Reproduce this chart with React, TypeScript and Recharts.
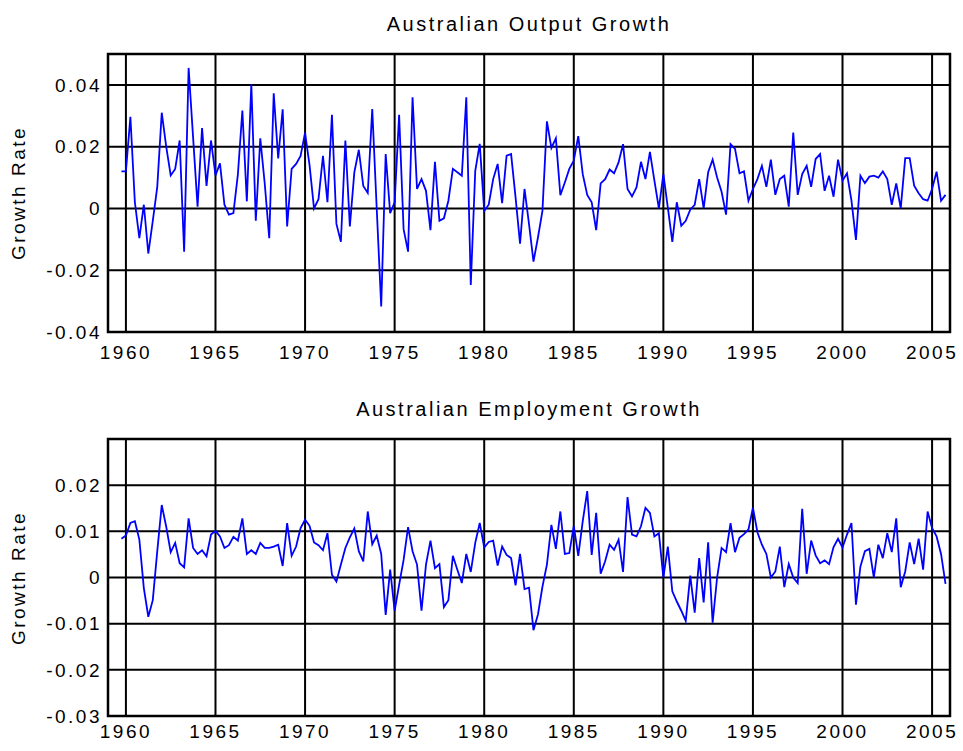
import { CartesianGrid, Line, LineChart, ReferenceArea, XAxis, YAxis } from 'recharts';

// quarterly series, first observation 1959 Q4
const startYear = 1959.75;
const quarterStep = 0.25;

const outputGrowth = [
  0.012, 0.012, 0.0297, 0.002, -0.0096, 0.0012, -0.0146, -0.004, 0.007, 0.031,
  0.02, 0.0107, 0.0128, 0.022, -0.014, 0.0455, 0.023, 0.0006, 0.026, 0.0073,
  0.022, 0.0107, 0.0146, 0.0012, -0.002, -0.0015, 0.011, 0.0317, 0.0023, 0.0403,
  -0.004, 0.0227, 0.008, -0.0096, 0.0373, 0.0162, 0.0321, -0.0058, 0.0128, 0.0144,
  0.017, 0.0245, 0.014, 0.0, 0.003, 0.017, 0.002, 0.0303, -0.005, -0.0108,
  0.022, -0.0058, 0.0117, 0.019, 0.0073, 0.005, 0.0322, 0.0, -0.0317, 0.0176,
  -0.0015, 0.002, 0.0303, -0.0067, -0.014, 0.036, 0.0063, 0.0095, 0.0057, -0.007,
  0.0151, -0.004, -0.0032, 0.0025, 0.0128, 0.0117, 0.0106, 0.036, -0.0248, 0.0122,
  0.0209, -0.0008, 0.0012, 0.0095, 0.0144, 0.0017, 0.0171, 0.0176, 0.0036, -0.0114,
  0.0063, -0.005, -0.0172, -0.0094, -0.0008, 0.0282, 0.0196, 0.0227, 0.0043, 0.0084,
  0.0128, 0.0155, 0.0234, 0.0111, 0.0044, 0.002, -0.007, 0.0081, 0.0095, 0.0126,
  0.0114, 0.0149, 0.0208, 0.0063, 0.0039, 0.0068, 0.0151, 0.0095, 0.0183, 0.009,
  0.0, 0.0111, 0.0003, -0.0108, 0.002, -0.0056, -0.004, -0.0004, 0.0012, 0.0095,
  0.0, 0.0117, 0.0158, 0.01, 0.0054, -0.002, 0.0208, 0.0193, 0.0114, 0.012,
  0.0025, 0.0063, 0.0095, 0.0138, 0.007, 0.0158, 0.0044, 0.0095, 0.0106, 0.0006,
  0.0246, 0.0044, 0.0111, 0.0138, 0.007, 0.016, 0.0176, 0.0057, 0.0106, 0.0038,
  0.0158, 0.009, 0.0114, 0.0025, -0.0102, 0.0106, 0.0082, 0.0103, 0.0106, 0.01,
  0.012, 0.0095, 0.0012, 0.0081, 0.0, 0.0163, 0.0163, 0.0074, 0.0049, 0.003,
  0.0025, 0.0063, 0.0119, 0.0025, 0.0044,
];

const employmentGrowth = [
  0.0084, 0.0091, 0.0118, 0.0122, 0.0082, -0.0023, -0.0085, -0.0049, 0.0057, 0.0157,
  0.011, 0.0055, 0.0075, 0.0031, 0.0022, 0.0128, 0.0064, 0.0051, 0.0059, 0.0046,
  0.0093, 0.0101, 0.0089, 0.0064, 0.007, 0.0088, 0.008, 0.0128, 0.0051, 0.0059,
  0.0051, 0.0075, 0.0064, 0.0064, 0.0067, 0.0071, 0.0025, 0.0118, 0.0047, 0.0067,
  0.0107, 0.0125, 0.0112, 0.0076, 0.007, 0.0059, 0.0096, 0.0006, -0.0009, 0.0028,
  0.0064, 0.0087, 0.0106, 0.0057, 0.0035, 0.0143, 0.0072, 0.0091, 0.0051, -0.0081,
  0.0017, -0.0072, -0.0016, 0.0038, 0.0109, 0.0057, 0.0028, -0.0072, 0.0028, 0.008,
  0.002, 0.0029, -0.0064, -0.0049, 0.0047, 0.0017, -0.0012, 0.0051, 0.0012, 0.0075,
  0.0118, 0.0065, 0.0077, 0.008, 0.0026, 0.0067, 0.0049, 0.0042, -0.0017, 0.0051,
  -0.0025, -0.0022, -0.0114, -0.008, -0.002, 0.0028, 0.0114, 0.0062, 0.0143, 0.0051,
  0.0053, 0.0112, 0.0047, 0.0122, 0.0187, 0.0049, 0.014, 0.0008, 0.0035, 0.0071,
  0.006, 0.0082, 0.0012, 0.0174, 0.0093, 0.0089, 0.0111, 0.0151, 0.014, 0.0089,
  0.0096, 0.0, 0.0067, -0.003, -0.0052, -0.0072, -0.0094, 0.0004, -0.0076, 0.0042,
  -0.0054, 0.0076, -0.0098, 0.0, 0.0064, 0.0055, 0.0118, 0.0055, 0.0086, 0.0094,
  0.0104, 0.0151, 0.0098, 0.0071, 0.0051, 0.0, 0.0013, 0.0067, -0.0021, 0.0029,
  0.0, -0.0012, 0.0149, 0.0008, 0.008, 0.0048, 0.0031, 0.0037, 0.0029, 0.0066,
  0.0084, 0.0065, 0.0093, 0.0118, -0.0059, 0.0024, 0.0057, 0.0062, 0.0, 0.0071,
  0.0042, 0.0096, 0.0055, 0.0128, -0.0021, 0.0013, 0.0076, 0.0029, 0.0084, 0.0017,
  0.0143, 0.0107, 0.0089, 0.0051, -0.0014,
];

const yearTicks = [1960, 1965, 1970, 1975, 1980, 1985, 1990, 1995, 2000, 2005];
const outputTicks = [-0.04, -0.02, 0, 0.02, 0.04];
const employmentTicks = [-0.03, -0.02, -0.01, 0, 0.01, 0.02];

const font = '"Liberation Sans", Arial, Helvetica, sans-serif';
const tickStyle = { fontSize: 19, fill: '#000', fontFamily: font, letterSpacing: 2.5 };

const fmt = (v: number) => (v === 0 ? '0' : v.toFixed(2));

interface PanelProps {
  title: string;
  values: number[];
  yDomain: [number, number];
  yTicks: number[];
  top: number;
  height: number;
  marginTop: number;
  xAxisHeight: number;
  xTickMargin: number;
}

function GrowthPanel({ title, values, yDomain, yTicks, top, height, marginTop, xAxisHeight, xTickMargin }: PanelProps) {
  const rows = values.map((v, i) => ({ t: startYear + i * quarterStep, g: v }));
  const plotTop = top + marginTop;
  const plotH = height - marginTop - xAxisHeight;

  return (
    <>
      <div
        style={{
          position: 'absolute',
          left: 329,
          width: 400,
          top: plotTop - 42,
          height: 24,
          lineHeight: '24px',
          textAlign: 'center',
          fontFamily: font,
          fontSize: 20,
          letterSpacing: 2.5,
        }}
      >
        {title}
      </div>
      <div
        style={{
          position: 'absolute',
          left: 19 - 100,
          width: 200,
          top: plotTop + plotH / 2 - 12,
          height: 24,
          lineHeight: '24px',
          textAlign: 'center',
          fontFamily: font,
          fontSize: 19,
          letterSpacing: 2.5,
          transform: 'rotate(-90deg)',
        }}
      >
        Growth Rate
      </div>
      <div style={{ position: 'absolute', left: 0, top }}>
        <LineChart width={963} height={height} data={rows} margin={{ top: marginTop, right: 13, bottom: 0, left: 0 }}>
          <CartesianGrid stroke="#000" strokeWidth={2} />
          <XAxis
            dataKey="t"
            type="number"
            domain={[1959, 2006]}
            ticks={yearTicks}
            allowDataOverflow
            height={xAxisHeight}
            axisLine={false}
            tickLine={false}
            tickSize={0}
            tickMargin={xTickMargin}
            tick={tickStyle}
          />
          <YAxis
            type="number"
            domain={yDomain}
            ticks={yTicks}
            allowDataOverflow
            width={108}
            axisLine={false}
            tickLine={false}
            tickSize={0}
            tickMargin={6}
            tickFormatter={fmt}
            tick={tickStyle}
          />
          <ReferenceArea
            x1={1959}
            x2={2006}
            y1={yDomain[0]}
            y2={yDomain[1]}
            fill="none"
            stroke="#000"
            strokeWidth={2.5}
            ifOverflow="visible"
          />
          <Line
            type="linear"
            dataKey="g"
            stroke="#0000ff"
            strokeWidth={1.8}
            dot={false}
            isAnimationActive={false}
          />
        </LineChart>
      </div>
    </>
  );
}

export default function App() {
  return (
    <div style={{ position: 'absolute', left: 0, top: 0, width: 963, height: 751, background: '#fff' }}>
      <GrowthPanel
        title="Australian Output Growth"
        values={outputGrowth}
        yDomain={[-0.04, 0.05]}
        yTicks={outputTicks}
        top={0}
        height={375}
        marginTop={54}
        xAxisHeight={43}
        xTickMargin={14}
      />
      <GrowthPanel
        title="Australian Employment Growth"
        values={employmentGrowth}
        yDomain={[-0.03, 0.03]}
        yTicks={employmentTicks}
        top={375}
        height={376}
        marginTop={64}
        xAxisHeight={35}
        xTickMargin={9}
      />
    </div>
  );
}
